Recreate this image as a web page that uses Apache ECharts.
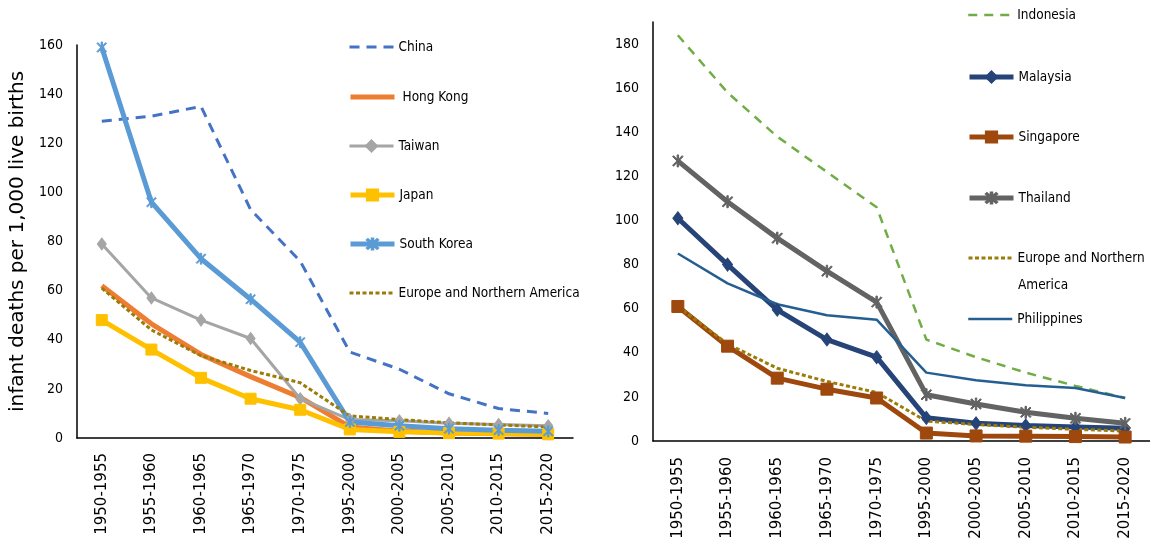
<!DOCTYPE html>
<html>
<head>
<meta charset="utf-8">
<script src="https://cdn.jsdelivr.net/npm/echarts@6/dist/echarts.min.js"></script>
<style>
html,body{margin:0;padding:0;background:#fff;}
#chart{width:1150px;height:547px;}
</style>
</head>
<body>
<div id="chart"></div>
<script>
// ---- Data ----
const categories = ['1950-1955','1955-1960','1960-1965','1965-1970','1970-1975','1995-2000','2000-2005','2005-2010','2010-2015','2015-2020'];
const yTicksLeft = [0,20,40,60,80,100,120,140,160];
const yTicksRight = [0,20,40,60,80,100,120,140,160,180];
const yAxisTitle = 'infant deaths per 1,000 live births';

// Left chart (East Asia)
const china      = [129, 131, 135, 93, 72, 35, 28, 18, 12, 10];
const hongKong   = [62, 46.5, 34, 25, 16.5, 4.5, 2.8, 2, 1.7, 1.5];
const taiwan     = [79, 57, 48, 40.5, 16, 7.5, 7, 6, 5.5, 5];
const japan      = [48, 36, 24.5, 16, 11.5, 3.5, 2.5, 2, 1.8, 1.5];
const southKorea = [159, 96, 73, 56.5, 39, 6.5, 5, 3.8, 3.2, 2.7];
const europeNA   = [61, 44, 33.5, 27.5, 22.5, 9, 7.5, 6.2, 5.3, 4.5];

// Right chart (Southeast Asia)
const indonesia   = [184, 158, 138, 122, 106, 46, 38, 31, 25, 19.5];
const malaysia    = [101, 80, 59.5, 46, 38, 10.5, 8, 7, 6.4, 5.8];
const singapore   = [61, 43, 28.5, 23.5, 19.5, 3.6, 2.3, 2.2, 2, 1.8];
const thailand    = [127, 108.5, 92, 77, 63, 21, 16.8, 13, 10.3, 8];
const europeNA2   = [61, 44, 33, 27, 22, 9, 7.5, 6.2, 5.3, 4.5];
const philippines = [85, 71.5, 62, 57, 55, 31, 27.5, 25.3, 24, 19.5];

const ASTERISK = 'path://M-0.6,-5L0.6,-5L0.6,5L-0.6,5Z M-4.4,-3.6L-3.6,-4.4L4.4,3.6L3.6,4.4Z M3.6,-4.4L4.4,-3.6L-3.6,4.4L-4.4,3.6Z';

const defs = [];
function mk(name, data, idx, color, width, dash, symbol, size) {
  defs.push({ name: name, width: width, hasSymbol: !!symbol });
  return {
    name: name, type: 'line', data: data,
    xAxisIndex: idx, yAxisIndex: idx,
    color: color,
    lineStyle: { color: color, width: width, type: dash || 'solid' },
    itemStyle: { color: color, borderColor: color, borderWidth: 1 },
    symbol: symbol || 'none',
    symbolSize: size || 10,
    symbolKeepAspect: true,
    showSymbol: !!symbol,
    animation: false,
    z: 2
  };
}

const series = [
  mk('China', china, 0, '#4472C4', 3, [10, 7]),
  mk('Hong Kong', hongKong, 0, '#ED7D31', 5),
  mk('Taiwan', taiwan, 0, '#A5A5A5', 3, null, 'diamond', [9, 12]),
  mk('Japan', japan, 0, '#FFC000', 5, null, 'rect', 11),
  mk('South Korea', southKorea, 0, '#5B9BD5', 5, null, ASTERISK, 11),
  mk('Europe and Northern America', europeNA, 0, '#9C7C08', 3, [4, 2.5]),
  mk('Indonesia', indonesia, 1, '#70AD47', 2.5, [9, 7]),
  mk('Malaysia', malaysia, 1, '#264478', 5, null, 'diamond', [10, 13]),
  mk('Singapore', singapore, 1, '#9E480E', 5, null, 'rect', 12),
  mk('Thailand', thailand, 1, '#636363', 5, null, ASTERISK, 12),
  mk('Europe and Northern America ', europeNA2, 1, '#9C7C08', 3, [4, 2.5]),
  mk('Philippines', philippines, 1, '#255E91', 2.5)
];

const FONT = 'DejaVu Sans Condensed, Liberation Sans, sans-serif';
const LEGEND_FS = 13.5;
function legendItem(name, left, centerY, extra) {
  const d = defs.find(function (s) { return s.name === name; });
  return Object.assign({
    data: [name], left: left, top: centerY - 7, padding: 0,
    itemWidth: 44, itemHeight: 14, itemGap: 0, selectedMode: false,
    lineStyle: { width: d.width },
    itemStyle: d.hasSymbol ? {} : { opacity: 0 },
    textStyle: { fontFamily: FONT, fontSize: LEGEND_FS, color: '#000' }
  }, extra || {});
}

const legends = [
  legendItem('China', 348, 47),
  legendItem('Hong Kong', 348, 97, { textStyle: { fontFamily: FONT, fontSize: LEGEND_FS, color: '#000', padding: [0,0,0,3] } }),
  legendItem('Taiwan', 348, 146),
  legendItem('Japan', 348, 195),
  legendItem('South Korea', 348, 244),
  legendItem('Europe and Northern America', 348, 293),
  legendItem('Indonesia', 967, 15),
  legendItem('Malaysia', 967, 77),
  legendItem('Singapore', 967, 137),
  legendItem('Thailand', 967, 198),
  legendItem('Europe and Northern America ', 967, 258, {
    formatter: function () { return 'Europe and Northern'; }
  }),
  legendItem('Philippines', 967, 319)
];

function xAxis(idx, margin) {
  return {
    type: 'category', gridIndex: idx, data: categories, boundaryGap: true,
    axisLine: { lineStyle: { color: '#000', width: 1.5 } },
    axisTick: { show: false },
    axisLabel: { rotate: 90, margin: margin, fontFamily: 'DejaVu Sans', fontSize: 15, color: '#000', interval: 0 },
    splitLine: { show: false }
  };
}
function yAxis(idx, max, ticks, extra) {
  return Object.assign({
    type: 'value', gridIndex: idx, min: ticks[0], max: max, interval: ticks[1] - ticks[0],
    axisLine: { show: true, lineStyle: { color: '#000', width: 1.5 } },
    axisTick: { show: false },
    axisLabel: { margin: 14, fontFamily: FONT, fontSize: 14, color: '#000', showMaxLabel: max === ticks[ticks.length - 1] },
    splitLine: { show: false }
  }, extra || {});
}

const chart = echarts.init(document.getElementById('chart'), null, { renderer: 'canvas' });
chart.setOption({
  backgroundColor: '#fff',
  animation: false,
  textStyle: { fontFamily: FONT },
  grid: [
    { left: 77, top: 45, width: 496, height: 393 },
    { left: 653, top: 22, width: 497, height: 419 }
  ],
  xAxis: [xAxis(0, 15), xAxis(1, 16)],
  yAxis: [
    yAxis(0, 160, yTicksLeft, {
      name: yAxisTitle, nameLocation: 'middle', nameGap: 49, nameRotate: 90,
      nameTextStyle: { fontFamily: 'DejaVu Sans', fontSize: 20, color: '#000' }
    }),
    yAxis(1, 190, yTicksRight)
  ],
  legend: legends,
  graphic: [{
    type: 'text', left: 1018, top: 278,
    style: { text: 'America', fontFamily: FONT, fontSize: LEGEND_FS, fill: '#000' }
  }],
  series: series
});
</script>
</body>
</html>
